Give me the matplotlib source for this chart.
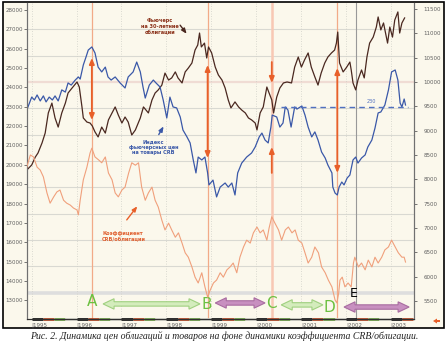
import matplotlib
matplotlib.use("Agg")
import matplotlib.pyplot as plt
from matplotlib.patches import Rectangle, Polygon
import numpy as np

# CRB index futures (left scale)
crb_x = [1994.89, 1995.00, 1995.06, 1995.12, 1995.19, 1995.26, 1995.32, 1995.39, 1995.46, 1995.52,
         1995.59, 1995.67, 1995.75, 1995.81, 1995.88, 1995.97, 1996.04, 1996.08, 1996.15, 1996.21,
         1996.26, 1996.34, 1996.41, 1996.48, 1996.56, 1996.64, 1996.70, 1996.77, 1996.86, 1996.97,
         1997.08, 1997.15, 1997.26, 1997.34, 1997.42, 1997.48, 1997.53, 1997.62, 1997.71, 1997.77,
         1997.86, 1997.93, 1998.01, 1998.08, 1998.15, 1998.23, 1998.31, 1998.37, 1998.46, 1998.53,
         1998.60, 1998.66, 1998.71, 1998.79, 1998.86, 1998.92, 1998.95, 1999.04, 1999.12, 1999.20,
         1999.31, 1999.38, 1999.46, 1999.53, 1999.59, 1999.68, 1999.79, 1999.90, 1999.98, 2000.07,
         2000.13, 2000.20, 2000.27, 2000.33, 2000.36, 2000.46, 2000.53, 2000.60, 2000.65, 2000.71,
         2000.78, 2000.86, 2000.91, 2001.02, 2001.09, 2001.16, 2001.24, 2001.31, 2001.38, 2001.46,
         2001.54, 2001.60, 2001.69, 2001.71, 2001.76, 2001.81, 2001.85, 2001.91, 2001.96, 2002.03,
         2002.09, 2002.16, 2002.22, 2002.27, 2002.35, 2002.43, 2002.49, 2002.58, 2002.65, 2002.72,
         2002.78, 2002.87, 2002.95, 2003.02, 2003.10, 2003.16, 2003.21, 2003.25, 2003.30, 2003.33]
crb_y = [22830, 23500, 23350, 23610, 23300, 23560, 23250, 23500, 23350, 23560,
         23300, 23870, 23760, 24230, 24120, 24380, 24540, 24430, 25160, 25570,
         25930, 26090, 25780, 25050, 24800, 25050, 24540, 24380, 24540, 24230,
         23970, 24540, 24800, 25310, 24800, 24020, 23450, 24120, 24380, 24230,
         24020, 23350, 22420, 23500, 22990, 22940, 22470, 21800, 21440, 21130,
         20250, 19580, 20400, 20250, 20400, 19580, 18960, 19210, 18340, 18850,
         19060, 18850, 19060, 18440, 19580, 20090, 20400, 20610, 20920, 21440,
         21640, 21280, 21130, 21950, 22570, 22470, 21950, 22160, 22990, 22830,
         21950, 22990, 22880, 23040, 22570, 21950, 21440, 21700, 21280, 20660,
         20350, 19990, 19580, 18850, 18540, 18440, 18850, 19110, 18960, 19320,
         19470, 20250, 20400, 20090, 20350, 20510, 20920, 21280, 21900, 22680,
         22730, 23090, 23870, 24800, 24900, 24380, 23190, 22990, 23400, 23090]

# 30-year bond futures (left scale)
bond_x = [1994.89, 1995.00, 1995.08, 1995.14, 1995.23, 1995.30, 1995.37, 1995.45, 1995.52, 1995.59,
          1995.67, 1995.75, 1995.81, 1995.90, 1996.01, 1996.06, 1996.12, 1996.15, 1996.23, 1996.30,
          1996.35, 1996.41, 1996.48, 1996.56, 1996.64, 1996.71, 1996.79, 1996.86, 1996.93, 1997.01,
          1997.08, 1997.15, 1997.23, 1997.31, 1997.42, 1997.49, 1997.60, 1997.68, 1997.75, 1997.82,
          1997.90, 1997.97, 1998.05, 1998.12, 1998.20, 1998.26, 1998.35, 1998.42, 1998.49, 1998.57,
          1998.64, 1998.70, 1998.74, 1998.78, 1998.85, 1998.90, 1998.94, 1999.01, 1999.09, 1999.16,
          1999.24, 1999.31, 1999.38, 1999.44, 1999.53, 1999.61, 1999.68, 1999.76, 1999.83, 1999.90,
          1999.98, 2000.02, 2000.09, 2000.16, 2000.24, 2000.29, 2000.35, 2000.39, 2000.46, 2000.53,
          2000.61, 2000.69, 2000.79, 2000.86, 2000.94, 2001.01, 2001.08, 2001.16, 2001.23, 2001.31,
          2001.38, 2001.45, 2001.53, 2001.60, 2001.68, 2001.75, 2001.79, 2001.82, 2001.86, 2001.94,
          2002.02, 2002.09, 2002.12, 2002.16, 2002.22, 2002.27, 2002.35, 2002.41, 2002.47, 2002.53,
          2002.61, 2002.68, 2002.72, 2002.78, 2002.84, 2002.93, 2002.98, 2003.04, 2003.09, 2003.16,
          2003.20, 2003.25, 2003.31]
bond_y = [19730, 19990, 20400, 20610, 21130, 21640, 22680, 23190, 22420, 21950,
          22680, 23190, 23710, 23970, 24280, 24020, 22990, 22420, 22210, 22160,
          22010, 21700, 21440, 21950, 21640, 22320, 22680, 22990, 22570, 22160,
          22470, 22210, 21540, 21800, 22420, 22990, 22680, 23350, 23710, 23870,
          24120, 24740, 24380, 24490, 24800, 24490, 24230, 24800, 25000, 25260,
          25930, 26190, 26810, 26090, 26290, 25520, 26090, 25780, 25050, 24640,
          24380, 23970, 23350, 22940, 23250, 22990, 22830, 22680, 22420, 22320,
          22160, 21800, 22680, 22990, 24020, 23710, 23350, 22680, 23500, 23970,
          24230, 24280, 24230, 25050, 25570, 25050, 25420, 25780, 25050, 24540,
          24120, 24740, 25260, 25570, 25780, 25930, 26290, 26860, 25260, 24800,
          25050, 25310, 24900, 24230, 23870, 24380, 24900, 24490, 25570, 26290,
          26600, 27120, 27640, 26970, 27330, 26290, 27120, 26600, 27480, 27900,
          26810, 27330, 27590]

# CRB / bonds ratio (right scale)
ratio_x = [1994.89, 1994.97, 1995.04, 1995.12, 1995.19, 1995.26, 1995.34, 1995.41, 1995.49, 1995.56,
           1995.63, 1995.71, 1995.78, 1995.86, 1995.93, 1996.01, 1996.04, 1996.08, 1996.15, 1996.23,
           1996.30, 1996.34, 1996.41, 1996.49, 1996.56, 1996.64, 1996.71, 1996.79, 1996.86, 1996.93,
           1997.01, 1997.08, 1997.16, 1997.23, 1997.31, 1997.38, 1997.45, 1997.53, 1997.60, 1997.68,
           1997.75, 1997.82, 1997.90, 1997.97, 1998.05, 1998.12, 1998.20, 1998.27, 1998.35, 1998.42,
           1998.49, 1998.57, 1998.64, 1998.71, 1998.79, 1998.86, 1998.92, 1998.98, 1999.05, 1999.12,
           1999.20, 1999.27, 1999.35, 1999.42, 1999.49, 1999.57, 1999.64, 1999.72, 1999.79, 1999.87,
           1999.94, 2000.02, 2000.09, 2000.16, 2000.24, 2000.29, 2000.35, 2000.42, 2000.50, 2000.57,
           2000.65, 2000.72, 2000.80, 2000.87, 2000.94, 2001.02, 2001.09, 2001.16, 2001.24, 2001.31,
           2001.39, 2001.46, 2001.54, 2001.61, 2001.69, 2001.76, 2001.80, 2001.84, 2001.87, 2001.92,
           2001.98, 2002.05, 2002.12, 2002.17, 2002.20, 2002.28, 2002.35, 2002.43, 2002.50, 2002.58,
           2002.65, 2002.72, 2002.80, 2002.87, 2002.95, 2003.02, 2003.10, 2003.17, 2003.25, 2003.30,
           2003.33]
ratio_y = [8250, 8500, 8460, 8250, 8190, 8050, 7720, 7510, 7640, 7740,
           7780, 7570, 7510, 7470, 7410, 7370, 7270, 7570, 7990, 8250,
           8540, 8640, 8460, 8400, 8340, 8460, 8130, 7990, 7720, 7640,
           7780, 7840, 8130, 8340, 8290, 8340, 7840, 7570, 7720, 7840,
           7570, 7430, 7160, 6960, 7100, 6960, 6810, 6900, 6690, 6490,
           6400, 6200, 5990, 5870, 6080, 5790, 5580, 5730, 5870, 5930,
           6080, 5990, 6140, 6200, 6280, 6080, 6400, 6610, 6750, 6690,
           6900, 7020, 6900, 6960, 6750, 7000, 7230, 7100, 6960, 6750,
           6960, 7020, 6900, 6960, 6750, 6690, 6490, 6280, 6400, 6610,
           6490, 6200, 6080, 5930, 5790, 5520, 5460, 5660, 5930, 5990,
           5790, 5870, 5790, 6280, 6400, 6200, 6280, 6140, 6340, 6200,
           6400, 6280, 6400, 6550, 6610, 6750, 6610, 6490, 6400, 6400,
           6300]

years = [1995, 1996, 1997, 1998, 1999, 2000, 2001, 2002, 2003]
left_ticks = list(range(13000, 28001, 1000))
right_ticks = list(range(5500, 11501, 500))
marks = {"A": 1996.34, "B": 1998.92, "C": 2000.35, "D": 2001.81}

bg = "#fbf8ec"
blue = "#3a58a8"
brown = "#4a2820"
salmon = "#f0a07c"
red = "#e8602a"
grid_c = "#d9d9d2"
tick_c = "#606060"

W, H = 446, 348
fig = plt.figure(figsize=(W / 100, H / 100), dpi=100)
fig.patch.set_facecolor("white")
frame = Rectangle((3 / W, 1 - 328 / H), 441 / W, 326 / H, transform=fig.transFigure,
                  facecolor=bg, edgecolor="black", lw=1.2, zorder=-5)
fig.add_artist(frame)

ax = fig.add_axes([27 / W, 1 - 319 / H, 386.5 / W, 316 / H])
ax.set_facecolor("none")
ax2 = ax.twinx()
ax2.set_facecolor("none")
ax.set_xlim(1994.895, 2003.508)
ax.set_ylim(12031, 28362)
ax2.set_ylim(5130, 11623)

# grid
lo, hi = ax.get_ylim()
for k, gy in enumerate(np.linspace(lo, hi, 13)[1:-1], start=1):
    if k == 9:
        ax.axhline(gy, color="#f0dcd4", lw=1.6, zorder=1)
    elif k == 1:
        ax.axhline(gy, color="#dedede", lw=2.6, zorder=1)
    else:
        ax.axhline(gy, color=grid_c, lw=0.8, zorder=1)
for yr in years:
    ax.axvline(yr, color="#d0d0c8", lw=0.6, ls=(0, (1, 2)), zorder=1)

# vertical event lines
for name, xv in marks.items():
    if name == "C":
        ax.axvline(xv, color="#f8c8b4", lw=1.8, zorder=2)
    else:
        ax.axvline(xv, color="#f2aa88", lw=0.9, zorder=2)
ax.axvline(2002.22, color="#999999", lw=0.8, zorder=2)

# series
ax2.plot(ratio_x, ratio_y, color=salmon, lw=0.8, zorder=3)
ax.plot(bond_x, bond_y, color=brown, lw=0.9, zorder=4)
ax.plot(crb_x, crb_y, color=blue, lw=0.9, zorder=4)

# 230 level
ax.plot([2000.56, 2003.39], [23000, 23000], color="#5070c0", lw=1.0, ls=(0, (4, 3)), zorder=5)
ax.text(2002.58, 23120, "230", color="#5070c0", fontsize=3.6, ha="center", va="bottom", zorder=6)

# red arrows
def varrow(x, y0, y1, style):
    ax.annotate("", xy=(x, y1), xytext=(x, y0), zorder=6,
                arrowprops=dict(arrowstyle=style + ",head_length=0.35,head_width=0.15",
                                color=red, lw=1.3, shrinkA=0, shrinkB=0))

varrow(marks["A"], 22315, 25520, "<|-|>")
varrow(marks["B"], 20350, 25160, "<|-|>")
varrow(marks["C"], 25310, 24230, "-|>")
varrow(marks["C"], 19580, 20920, "-|>")
varrow(marks["D"], 19580, 25000, "<|-|>")

# labels with small arrows
ax.text(1997.86, 27173, "Фьючерс\nна 30-летние\nоблигации", color="#8a3018", fontsize=3.6,
        fontweight="bold", ha="center", va="center", linespacing=1.1, zorder=6)
ax.annotate("", xy=(1998.49, 26656), xytext=(1998.27, 27330),
            arrowprops=dict(arrowstyle="-|>,head_length=0.3,head_width=0.12", color=brown, lw=1.0))
ax.text(1997.71, 20920, "Индекс\nфьючерсных цен\nна товары CRB", color=blue, fontsize=3.6,
        fontweight="bold", ha="center", va="center", linespacing=1.1, zorder=6)
ax.annotate("", xy=(1997.97, 22110), xytext=(1997.80, 21440),
            arrowprops=dict(arrowstyle="-|>,head_length=0.3,head_width=0.12", color=blue, lw=1.0))
ax.text(1997.04, 16320, "Коэффициент\nCRB/облигации", color="#e06030", fontsize=3.6,
        fontweight="bold", ha="center", va="center", linespacing=1.1, zorder=6)
ax.annotate("", xy=(1997.39, 17970), xytext=(1997.08, 17040),
            arrowprops=dict(arrowstyle="-|>,head_length=0.3,head_width=0.12", color=red, lw=1.0))

# phase letters
green_txt = "#6cc040"
ax.text(marks["A"], 12910, "A", color=green_txt, fontsize=11, ha="center", va="center", zorder=7)
ax.text(marks["B"] - 0.02, 12760, "B", color=green_txt, fontsize=11, ha="center", va="center", zorder=7)
ax.text(marks["C"] - 0.01, 12810, "C", color=green_txt, fontsize=11, ha="center", va="center", zorder=7)
ax.text(2001.63, 12650, "D", color=green_txt, fontsize=11, ha="center", va="center", zorder=7)
ax.text(2002.18, 13370, "E", color="black", fontsize=9, ha="center", va="center", zorder=7)

fig.canvas.draw()

def fat_arrow(x0, x1, yv, face, edge):
    p0 = ax.transData.transform((x0, yv))
    p1 = ax.transData.transform((x1, yv))
    cy = p0[1]
    a, b = p0[0], p1[0]
    hw, bw, hl = 5.2, 2.2, 11
    pts = [(a, cy), (a + hl, cy + hw), (a + hl, cy + bw), (b - hl, cy + bw), (b - hl, cy + hw),
           (b, cy), (b - hl, cy - hw), (b - hl, cy - bw), (a + hl, cy - bw), (a + hl, cy - hw)]
    pts = ax.transAxes.inverted().transform(pts)
    ax.add_patch(Polygon(pts, closed=True, transform=ax.transAxes, facecolor=face,
                         edgecolor=edge, lw=0.8, zorder=6, clip_on=False))

fat_arrow(1996.59, 1998.75, 12810, "#d4ecbc", "#a0d080")
fat_arrow(1999.09, 2000.20, 12860, "#c890c0", "#a86ca0")
fat_arrow(2000.56, 2001.49, 12760, "#d4ecbc", "#a0d080")
fat_arrow(2001.96, 2003.41, 12650, "#c890c0", "#a86ca0")

# axes styling
ax.set_yticks(left_ticks)
ax.set_yticklabels([str(v) for v in left_ticks])
ax2.set_yticks(right_ticks)
ax2.set_yticklabels([str(v) for v in right_ticks])
ax.tick_params(axis="y", labelsize=4, colors=tick_c, length=2, width=0.6, pad=1)
ax2.tick_params(axis="y", labelsize=4, colors=tick_c, length=2, width=0.6, pad=5)
ax.set_xticks(years)
ax.set_xticklabels(["|" + str(y) for y in years], ha="left")
ax.tick_params(axis="x", labelsize=4, colors=tick_c, length=0, pad=2.5)
for lab in ax.get_xticklabels():
    lab.set_horizontalalignment("left")
for a_ in (ax, ax2):
    a_.spines["top"].set_visible(False)
    a_.spines["left"].set_color("#707070")
    a_.spines["right"].set_color("#707070")
    a_.spines["bottom"].set_color("#303030")
    a_.spines["left"].set_linewidth(0.8)
    a_.spines["right"].set_linewidth(0.8)

# quarter strip along the time axis
q_colors = ["#1a1a1a", "#b04a28", "#6a9a48", "#c8c8c0"]
for yr in years:
    for q in range(4):
        q0 = yr + q * 0.25
        if q0 >= 2003.5:
            break
        ax.plot([q0, min(q0 + 0.25, 2003.5)], [0, 0], transform=ax.get_xaxis_transform(),
                color=q_colors[q], lw=2.0, solid_capstyle="butt", clip_on=False, zorder=8)

# small marker bottom right
fig.add_artist(Polygon([(433 / W, 1 - 321 / H), (437 / W, 1 - 318.5 / H), (437 / W, 1 - 320 / H),
                        (440 / W, 1 - 320 / H), (440 / W, 1 - 322 / H), (437 / W, 1 - 322 / H),
                        (437 / W, 1 - 323.5 / H)], closed=True, transform=fig.transFigure,
                       facecolor=red, edgecolor="none"))

fig.text(224 / W, 1 - 336 / H,
         "Рис. 2. Динамика цен облигаций и товаров на фоне динамики коэффициента CRB/облигации.",
         family="Liberation Serif", style="italic", fontsize=7, ha="center", va="center", color="#222222")

fig.savefig("out.png", dpi=100)
